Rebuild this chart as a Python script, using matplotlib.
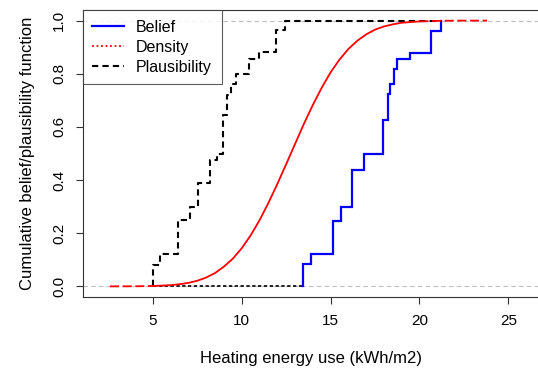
import matplotlib
matplotlib.use("Agg")
from matplotlib import pyplot as plt
from matplotlib.lines import Line2D

plt.rcParams['font.family'] = ['Liberation Sans', 'DejaVu Sans']

# belief steps: x of each jump and the level after it
belief_x = [13.47, 13.89, 15.16, 15.57, 16.23, 16.88, 17.94,
            18.25, 18.35, 18.59, 18.72, 19.47, 20.63, 21.2]
belief_y = [0.086, 0.12, 0.247, 0.30, 0.438, 0.498, 0.625,
            0.725, 0.763, 0.819, 0.857, 0.879, 0.96, 1.0]

# plausibility steps
plaus_x = [5.03, 5.41, 6.40, 7.10, 7.57, 8.22, 8.60, 8.97,
           9.16, 9.40, 9.68, 10.43, 11.00, 11.93, 12.44]
plaus_y = [0.082, 0.12, 0.251, 0.30, 0.388, 0.476, 0.50, 0.644,
           0.719, 0.763, 0.80, 0.857, 0.881, 0.963, 1.0]

# cumulative density curve
dens_x = [2.6, 4, 5, 6, 6.5, 7, 7.5, 8, 8.5, 9, 9.5, 10, 10.5, 11, 11.5,
          12, 12.5, 13, 13.5, 14, 14.5, 15, 15.5, 16, 16.5, 17, 17.5,
          18, 18.5, 19, 20, 21, 22, 23.8]
dens_y = [0.0, 0.0004, 0.0014, 0.0046, 0.008, 0.013, 0.021, 0.033, 0.050,
          0.074, 0.104, 0.143, 0.191, 0.248, 0.313, 0.384, 0.459, 0.535,
          0.611, 0.682, 0.747, 0.805, 0.853, 0.893, 0.924, 0.948, 0.966,
          0.978, 0.986, 0.992, 0.997, 0.999, 1.0, 1.0]


def step_path(xs, ys, start=0.0, end_x=None):
    px, py = [xs[0]], [start]
    prev = start
    for x, y in zip(xs, ys):
        px += [x, x]
        py += [prev, y]
        prev = y
    if end_x is not None:
        px.append(end_x)
        py.append(prev)
    return px, py


fig = plt.figure(figsize=(5.38, 3.76), dpi=100)
ax = fig.add_axes([0.1537, 0.2101, 0.85, 0.7633])

ax.axhline(0, color='#bebebe', lw=0.8, ls=(0, (4, 3)))
ax.axhline(1, color='#bebebe', lw=0.8, ls=(0, (4, 3)))

# plausibility (black dashed), carried on at 1 up to end of belief
px, py = step_path(plaus_x, plaus_y, end_x=belief_x[-1])
ax.plot(px, py, color='black', lw=1.5, ls=(0, (3, 2)))
ax.plot([plaus_x[0], belief_x[0]], [0, 0], color='black', lw=1.2, ls=(0, (2, 1.5)))

# belief (blue)
bx, by = step_path(belief_x, belief_y)
ax.plot(bx, by, color='#0000ff', lw=1.6, solid_joinstyle='miter')

# density (red): solid in the middle, dashed on the flat tails
mid = [i for i, x in enumerate(dens_x) if 5 <= x <= 20]
left = [i for i, x in enumerate(dens_x) if x <= 5]
right = [i for i, x in enumerate(dens_x) if x >= 20]
ax.plot([dens_x[i] for i in mid], [dens_y[i] for i in mid], color='#ff0000', lw=1.3)
for part in (left, right):
    ax.plot([dens_x[i] for i in part], [dens_y[i] for i in part],
            color='#ff0000', lw=1.3, ls=(0, (5, 2)))

ax.set_xlim(1.063, 26.78)
ax.set_ylim(-0.04, 1.04)
ax.set_xticks([5, 10, 15, 20, 25])
ax.set_yticks([0.0, 0.2, 0.4, 0.6, 0.8, 1.0])
ax.set_yticklabels(['0.0', '0.2', '0.4', '0.6', '0.8', '1.0'], rotation=90, va='center')
ax.tick_params(direction='out', length=5, width=0.8, labelsize=11, color='#333333')
ax.tick_params(axis='x', pad=7)
ax.tick_params(axis='y', pad=7)
for s in ax.spines.values():
    s.set_color('#333333')
    s.set_linewidth(0.8)

ax.set_xlabel('Heating energy use (kWh/m2)', fontsize=12, labelpad=17)
ax.set_ylabel('Cumulative belief/plausibility function', fontsize=12, labelpad=12)

handles = [Line2D([], [], color='#0000ff', lw=1.6),
           Line2D([], [], color='#ff0000', lw=1.3, ls=(0, (1, 1.5))),
           Line2D([], [], color='black', lw=1.5, ls=(0, (3, 2)))]
leg = ax.legend(handles, ['Belief', 'Density', 'Plausibility'], loc='upper left',
                borderaxespad=0, fancybox=False, fontsize=11.5, handlelength=2.0,
                handletextpad=0.75, labelspacing=0.32, borderpad=0.6)
leg.get_frame().set_edgecolor('#333333')
leg.get_frame().set_linewidth(0.8)

plt.savefig('out.png', dpi=100)
